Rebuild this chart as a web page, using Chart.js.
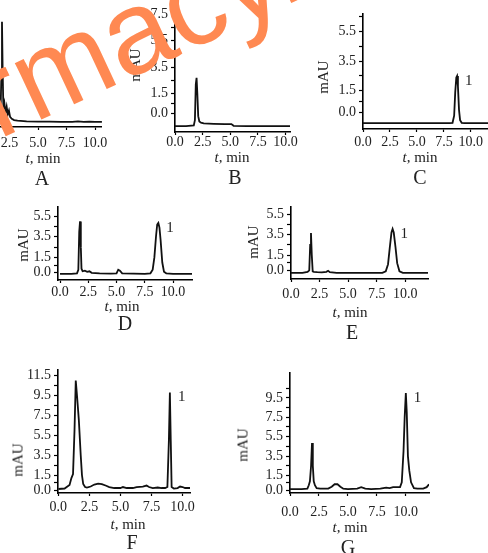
<!DOCTYPE html>
<html><head><meta charset="utf-8">
<script src="https://cdn.jsdelivr.net/npm/chart.js@4.4.0/dist/chart.umd.min.js"></script>
<style>
html,body{margin:0;padding:0;background:#fff;}
body{width:488px;height:553px;overflow:hidden;position:relative;}
canvas{position:absolute;}
.lbl{position:absolute;font-family:'Liberation Serif',serif;color:#222;white-space:nowrap;transform:translate(-50%,-50%);line-height:1;}
.tmin{font-size:15px;}
.let{font-size:20px;}
.mau{font-size:15px;transform:translate(-50%,-50%) rotate(-90deg);}
#wm{position:absolute;left:0;top:0;font-family:'Liberation Sans',Arial,sans-serif;font-size:118px;line-height:1;color:rgb(255,137,82);white-space:nowrap;transform-origin:0 0;transform:translate(-44px,49px) rotate(-25deg);z-index:10;}
</style></head><body>
<script>
// ---------- data ----------
const xTickValues = [0, 2.5, 5, 7.5, 10];
const xTickLabels = ['0.0', '2.5', '5.0', '7.5', '10.0'];

const timeA   = [0, 1.5, 1.7, 1.78, 1.84, 1.9, 1.96, 2.05, 2.15, 2.25, 2.35, 2.45, 2.55, 2.7, 2.9, 3.2, 4, 5, 6, 7, 8, 8.5, 9, 9.5, 10, 10.6];
const signalA = [-1.0, -1.0, -0.8, 2.5, 6.9, 3.0, 0.1, 0.5, -0.3, 0.2, -0.4, -0.1, -0.6, -0.75, -0.85, -0.9, -0.95, -0.97, -0.98, -1.0, -1.0, -0.95, -1.0, -0.97, -1.0, -1.0];

const timeB   = [0, 1.0, 1.7, 1.8, 1.88, 1.95, 2.02, 2.1, 2.2, 2.35, 2.6, 3.5, 4.5, 5.1, 5.3, 6.5, 8, 9, 10.4];
const signalB = [-0.95, -0.95, -0.9, -0.5, 2.2, 2.7, 1.5, -0.2, -0.6, -0.7, -0.75, -0.78, -0.8, -0.8, -0.93, -0.95, -0.95, -0.95, -0.95];

const timeC   = [0, 2, 4, 6, 8, 8.3, 8.45, 8.55, 8.65, 8.72, 8.8, 8.9, 9.0, 9.15, 9.4, 10, 11, 12.7];
const signalC = [-0.7, -0.7, -0.7, -0.7, -0.7, -0.68, -0.2, 1.4, 2.4, 2.5, 1.8, 0.2, -0.5, -0.68, -0.7, -0.7, -0.7, -0.7];

const timeD   = [0, 1.0, 1.5, 1.62, 1.7, 1.77, 1.84, 1.9, 2.0, 2.2, 2.4, 2.6, 2.8, 3.5, 4.5, 5.0, 5.15, 5.3, 5.5, 6.5, 7.5, 8.0, 8.2, 8.35, 8.5, 8.6, 8.7, 8.8, 8.9, 9.05, 9.2, 9.4, 10, 11, 11.7];
const signalD = [-0.1, -0.1, -0.05, 0.3, 4.0, 5.0, 2.5, 0.4, 0.15, 0.2, 0.1, 0.15, 0.0, -0.05, -0.08, -0.05, 0.3, 0.2, -0.05, -0.08, -0.1, -0.05, 0.3, 1.5, 3.6, 4.7, 4.85, 4.4, 3.2, 1.0, 0.1, -0.05, -0.1, -0.1, -0.1];

const timeE   = [0, 1.0, 1.45, 1.6, 1.68, 1.75, 1.82, 1.9, 2.0, 2.3, 2.7, 3.1, 3.25, 3.4, 4.0, 5.5, 7.0, 8.0, 8.3, 8.5, 8.65, 8.8, 8.9, 9.0, 9.15, 9.3, 9.5, 9.8, 10.5, 12.0];
const signalE = [-0.25, -0.25, -0.15, 0.0, 2.5, 3.65, 1.5, -0.1, -0.15, -0.18, -0.2, -0.15, -0.05, -0.18, -0.25, -0.25, -0.25, -0.25, -0.1, 0.6, 2.2, 3.7, 4.05, 3.7, 2.3, 0.7, -0.1, -0.25, -0.25, -0.25];

const timeF   = [0, 0.5, 0.9, 1.05, 1.18, 1.3, 1.4, 1.5, 1.65, 1.8, 1.9, 2.0, 2.15, 2.3, 2.6, 2.9, 3.2, 3.5, 3.8, 4.1, 4.5, 5.0, 5.2, 5.5, 6.0, 6.3, 6.8, 7.1, 7.3, 7.6, 8.0, 8.3, 8.6, 8.78, 8.9, 8.98, 9.05, 9.12, 9.3, 9.6, 9.8, 10.0, 10.2, 10.6];
const signalF = [0.1, 0.15, 0.5, 1.2, 1.6, 6.0, 11.0, 9.5, 7.0, 3.5, 1.5, 0.6, 0.3, 0.25, 0.35, 0.55, 0.65, 0.6, 0.45, 0.3, 0.2, 0.2, 0.3, 0.2, 0.2, 0.3, 0.35, 0.45, 0.3, 0.2, 0.25, 0.2, 0.2, 0.3, 5.0, 9.8, 5.0, 0.3, 0.15, 0.2, 0.35, 0.3, 0.2, 0.2];

const timeG   = [0, 1.0, 1.5, 1.62, 1.72, 1.82, 1.9, 1.97, 2.05, 2.15, 2.3, 2.6, 3.3, 3.6, 3.85, 4.1, 4.35, 4.6, 5.0, 5.8, 6.15, 6.5, 7.0, 7.8, 8.3, 8.6, 8.9, 9.5, 9.65, 9.8, 9.9, 10.0, 10.08, 10.18, 10.3, 10.45, 10.7, 11.0, 11.5, 11.8, 12.0];
const signalG = [0.1, 0.1, 0.15, 0.5, 0.9, 2.5, 4.85, 2.5, 0.9, 0.5, 0.2, 0.15, 0.15, 0.35, 0.6, 0.6, 0.35, 0.15, 0.1, 0.15, 0.3, 0.15, 0.1, 0.15, 0.25, 0.2, 0.3, 0.3, 0.8, 4.0, 7.5, 10.0, 8.0, 3.5, 2.0, 0.8, 0.2, 0.15, 0.15, 0.3, 0.6];

const yTicksB  = [0, 0.75, 1.5, 2.5, 3.5, 4.5, 5.5, 6.5, 7.5];
const yLabelsB = ['0.0', '', '1.5', '', '3.5', '', '5.5', '', '7.5'];
const yTicksC  = [0, 0.75, 1.5, 2.5, 3.5, 4.5, 5.5, 6.5];
const yLabelsC = ['0.0', '', '1.5', '', '3.5', '', '5.5', ''];
const yTicksDE  = [0, 0.75, 1.5, 2.5, 3.5, 4.5, 5.5];
const yLabelsDE = ['0.0', '', '1.5', '', '3.5', '', '5.5'];
const yTicksF  = [0, 0.75, 1.5, 2.5, 3.5, 4.5, 5.5, 6.5, 7.5, 8.5, 9.5, 10.5, 11.5];
const yLabelsF = ['0.0', '', '1.5', '', '3.5', '', '5.5', '', '7.5', '', '9.5', '', '11.5'];
const yTicksG  = [0, 0.75, 1.5, 2.5, 3.5, 4.5, 5.5, 6.5, 7.5, 8.5, 9.5, 10.5];
const yLabelsG = ['0.0', '', '1.5', '', '3.5', '', '5.5', '', '7.5', '', '9.5', ''];

// ---------- layout (pixel geometry of each panel's plot area) ----------
const panels = [
  {x: timeA, y: signalA, l: -19, t: 13, r: 102, b: 127, xmin: 0, xmax: 10.6, ymin: -1.4, ymax: 7.6, yt: yTicksB, yl: yLabelsB, xpad: 6, peak: null},
  {x: timeB, y: signalB, l: 175, t: 13, r: 290, b: 132, xmin: 0, xmax: 10.4, ymin: -1.4, ymax: 7.6, yt: yTicksB, yl: yLabelsB, xpad: 0, peak: null},
  {x: timeC, y: signalC, l: 363, t: 14, r: 500, b: 129, xmin: 0, xmax: 12.7, ymin: -1.1, ymax: 6.7, yt: yTicksC, yl: yLabelsC, xpad: 3, peak: '1'},
  {x: timeD, y: signalD, l: 58, t: 207, r: 192, b: 280, xmin: -0.18, xmax: 11.68, ymin: -0.7, ymax: 6.4, yt: yTicksDE, yl: yLabelsDE, xpad: 2, peak: '1'},
  {x: timeE, y: signalE, l: 291, t: 207, r: 428, b: 279, xmin: 0, xmax: 12.0, ymin: -0.85, ymax: 6.2, yt: yTicksDE, yl: yLabelsDE, xpad: 5, peak: '1'},
  {x: timeF, y: signalF, l: 58, t: 370, r: 190, b: 493, xmin: -0.03, xmax: 10.6, ymin: -0.3, ymax: 12.06, yt: yTicksF, yl: yLabelsF, xpad: 4, peak: '1'},
  {x: timeG, y: signalG, l: 290, t: 373, r: 429, b: 493, xmin: 0, xmax: 12.0, ymin: -0.3, ymax: 12.06, yt: yTicksG, yl: yLabelsG, xpad: 9, peak: '1'}
];

const texts = [
  {c: 'tmin', x: 43, y: 158}, {c: 'tmin', x: 232, y: 157}, {c: 'tmin', x: 420, y: 157},
  {c: 'tmin', x: 122, y: 306}, {c: 'tmin', x: 350, y: 312},
  {c: 'tmin', x: 128, y: 524}, {c: 'tmin', x: 350, y: 527},
  {c: 'let', x: 42, y: 178, s: 'A'}, {c: 'let', x: 235, y: 177, s: 'B'}, {c: 'let', x: 420, y: 177, s: 'C'},
  {c: 'let', x: 125, y: 323, s: 'D'}, {c: 'let', x: 352, y: 332, s: 'E'},
  {c: 'let', x: 132, y: 542, s: 'F'}, {c: 'let', x: 348, y: 547, s: 'G'},
  {c: 'mau', x: 135, y: 65}, {c: 'mau', x: 323, y: 77}, {c: 'mau', x: 23, y: 245},
  {c: 'mau', x: 253, y: 242}, {c: 'mau', x: 18, y: 460}, {c: 'mau', x: 243, y: 445}
];

const FONT = {family: "'Liberation Serif', serif", size: 14, lineHeight: 1};

function makePanel(p) {
  const YW = 50, PADT = 10, PADR = 12, XH = 30;
  const w = Math.round(p.r - p.l + YW + PADR);
  const h = Math.round(p.b - p.t + PADT + XH);
  const c = document.createElement('canvas');
  c.width = w; c.height = h;
  c.style.left = (p.l - YW) + 'px';
  c.style.top = (p.t - PADT) + 'px';
  c.style.width = w + 'px'; c.style.height = h + 'px';
  document.body.appendChild(c);
  const peakPlugin = {
    id: 'peakLabel',
    afterDatasetsDraw(chart) {
      if (!p.peak) return;
      const pts = chart.data.datasets[0].data;
      let best = null;
      for (const q of pts) if (q.x > 7 && (!best || q.y > best.y)) best = q;
      const ctx = chart.ctx;
      ctx.save();
      ctx.font = "15px 'Liberation Serif', serif";
      ctx.fillStyle = '#222';
      ctx.textBaseline = 'middle';
      ctx.textAlign = 'left';
      ctx.fillText(p.peak, chart.scales.x.getPixelForValue(best.x) + 8, chart.scales.y.getPixelForValue(best.y) + 5);
      ctx.restore();
    }
  };
  new Chart(c, {
    type: 'line',
    data: {datasets: [{data: p.x.map((t, i) => ({x: t, y: p.y[i]})), borderColor: '#111', borderWidth: 1.8, pointRadius: 0, tension: 0, fill: false}]},
    options: {
      responsive: false, devicePixelRatio: 1, animation: false, events: [],
      layout: {padding: {left: 0, top: PADT, right: PADR, bottom: 0}},
      plugins: {legend: {display: false}, tooltip: {enabled: false}},
      scales: {
        x: {
          type: 'linear', min: p.xmin, max: p.xmax,
          afterFit(s) { s.height = XH; },
          afterBuildTicks(s) { s.ticks = xTickValues.map(v => ({value: v})); },
          ticks: {autoSkip: false, maxRotation: 0, padding: p.xpad, font: FONT, color: '#222', callback: (v, i) => xTickLabels[i]},
          grid: {drawOnChartArea: false, drawTicks: true, tickLength: 3, tickColor: '#000', tickWidth: 1.2},
          border: {display: true, color: '#000', width: 1.6}
        },
        y: {
          type: 'linear', min: p.ymin, max: p.ymax,
          afterFit(s) { s.width = YW; },
          afterBuildTicks(s) { s.ticks = p.yt.map(v => ({value: v})); },
          ticks: {autoSkip: false, padding: 3, font: FONT, color: '#222', callback: (v, i) => p.yl[i]},
          grid: {drawOnChartArea: false, drawTicks: true, tickLength: 4, tickColor: '#000', tickWidth: 1.2},
          border: {display: true, color: '#000', width: 1.6}
        }
      }
    },
    plugins: [peakPlugin]
  });
}

panels.forEach(makePanel);

for (const t of texts) {
  const d = document.createElement('div');
  d.className = 'lbl ' + t.c;
  d.style.left = t.x + 'px';
  d.style.top = t.y + 'px';
  if (t.c === 'tmin') d.innerHTML = '<i>t</i>, min';
  else if (t.c === 'mau') d.textContent = 'mAU';
  else d.textContent = t.s;
  document.body.appendChild(d);
}

const wm = document.createElement('div');
wm.id = 'wm';
wm.textContent = 'rmacy.';
document.body.appendChild(wm);
</script>
</body></html>
